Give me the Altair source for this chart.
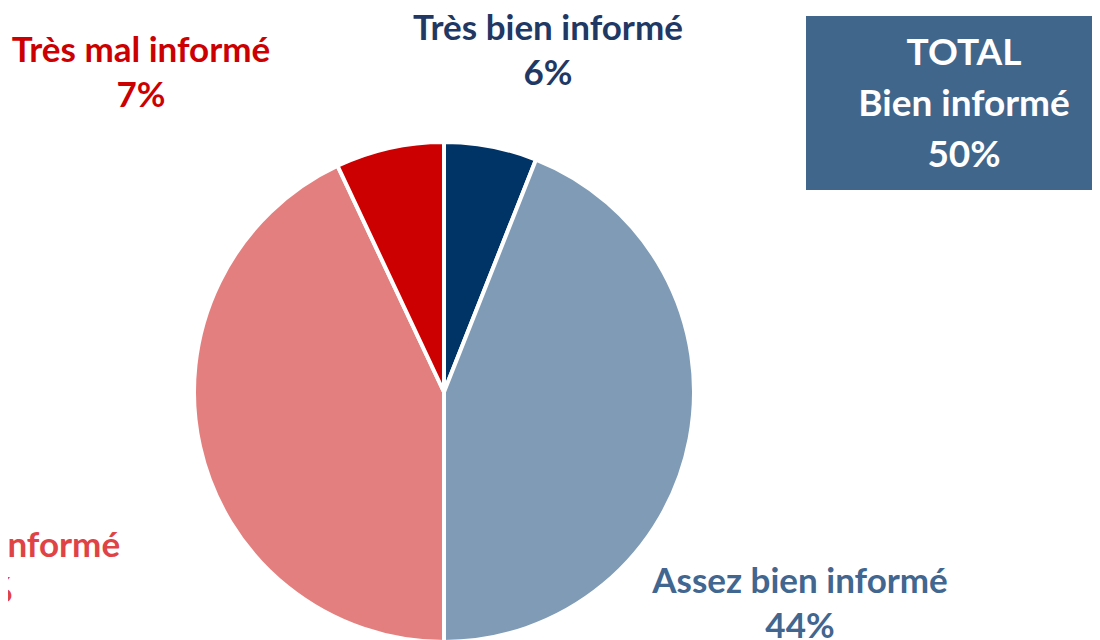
import altair as alt
import pandas as pd

categories = ["Très bien informé", "Assez bien informé", "Assez mal informé", "Très mal informé"]
values = [6, 44, 43, 7]
slice_colors = ["#003366", "#7f9bb5", "#e3807f", "#cc0000"]
label_colors = ["#1f3864", "#41668f", "#e04345", "#cc0000"]
total_lines = ["TOTAL", "Bien informé", "50%"]

df = pd.DataFrame({
    "cat": categories,
    "val": values,
    "idx": list(range(len(categories))),
    "label": [f"{c}\n{v}%" for c, v in zip(categories, values)],
})

FONT = "Lato"
OFF = 8  # page margin offset

pie = alt.Chart(df).mark_arc(outerRadius=250, stroke="white", strokeWidth=4).encode(
    theta=alt.Theta("val:Q", stack=True),
    order=alt.Order("idx:Q"),
    color=alt.Color("cat:N", scale=alt.Scale(domain=categories, range=slice_colors), legend=None),
    x=alt.value(444 - OFF),
    y=alt.value(392 - OFF),
)

# position of the first line of each label (page pixels)
label_pos = {
    "Très bien informé": (548, 29),
    "Assez bien informé": (800, 582),
    "Assez mal informé": (-22, 546),
    "Très mal informé": (141, 51),
}

layers = [pie]
for cat, col in zip(categories, label_colors):
    px, py = label_pos[cat]
    layers.append(
        alt.Chart(df).transform_filter(alt.datum.cat == cat).mark_text(
            font=FONT, fontWeight="bold", fontSize=35, lineBreak="\n", lineHeight=45,
            align="center", baseline="middle", color=col,
        ).encode(text="label:N", x=alt.value(px - OFF), y=alt.value(py - OFF))
    )

box_df = pd.DataFrame({"t": ["\n".join(total_lines)]})
box = alt.Chart(box_df).mark_rect(color="#41668c").encode(
    x=alt.value(806 - OFF), x2=alt.value(1100 - OFF), y=alt.value(16 - OFF), y2=alt.value(190 - OFF)
)
box_text = alt.Chart(box_df).mark_text(
    font=FONT, fontWeight="bold", fontSize=37, lineBreak="\n", lineHeight=51,
    align="center", baseline="middle", color="white",
).encode(text="t:N", x=alt.value(964 - OFF), y=alt.value(54 - OFF))

chart = alt.layer(*layers, box, box_text).properties(
    width=1084, height=632, padding=0, autosize="none"
).configure_view(stroke=None)

chart.save("out.html", embed_options={"renderer": "svg", "actions": False})
